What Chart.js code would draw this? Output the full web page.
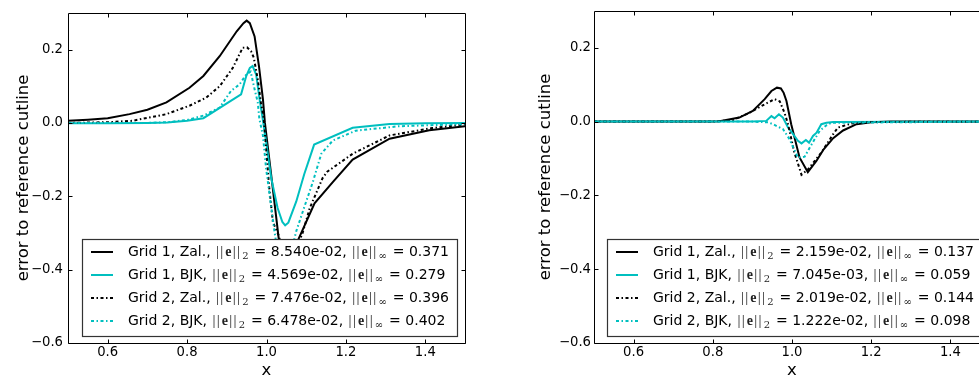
<!DOCTYPE html>
<html>
<head>
<meta charset="utf-8">
<script src="https://cdn.jsdelivr.net/npm/chart.js@4"></script>
<style>
html, body { margin: 0; padding: 0; background: #fff; overflow: hidden; width: 979px; height: 381px; }
.box { position: absolute; top: 0; height: 381px; }
#b1 { left: 0; width: 490px; }
#b2 { left: 520px; width: 500px; }
</style>
</head>
<body>
<div class="box" id="b1"><canvas id="c1"></canvas></div>
<div class="box" id="b2"><canvas id="c2"></canvas></div>
<script>
// ticks
var xTicks = [0.6, 0.8, 1.0, 1.2, 1.4];
var yTicks = [-0.6, -0.4, -0.2, 0.0, 0.2];

// legend text
var names = ["Grid 1, Zal.", "Grid 1, BJK", "Grid 2, Zal.", "Grid 2, BJK"];
var leftL2 = ["8.540e-02", "4.569e-02", "7.476e-02", "6.478e-02"];
var leftLinf = ["0.371", "0.279", "0.396", "0.402"];
var rightL2 = ["2.159e-02", "7.045e-03", "2.019e-02", "1.222e-02"];
var rightLinf = ["0.137", "0.059", "0.144", "0.098"];

// left panel
var l1ZalX = [0.5, 0.55, 0.6, 0.655, 0.7, 0.748, 0.806, 0.841, 0.882, 0.925, 0.942, 0.95, 0.958, 0.97, 0.981, 0.991, 0.996, 1.01, 1.031, 1.05, 1.062, 1.08, 1.121, 1.168, 1.217, 1.31, 1.41, 1.5];
var l1ZalY = [0.006, 0.009, 0.013, 0.024, 0.036, 0.056, 0.096, 0.128, 0.182, 0.25, 0.272, 0.279, 0.272, 0.236, 0.155, 0.065, 0.0, -0.125, -0.317, -0.371, -0.36, -0.318, -0.219, -0.16, -0.10, -0.043, -0.02, -0.009];
var l1BjkX = [0.5, 0.6, 0.7, 0.75, 0.8, 0.841, 0.936, 0.949, 0.958, 0.965, 0.974, 0.982, 0.995, 1.012, 1.028, 1.04, 1.047, 1.055, 1.075, 1.095, 1.12, 1.217, 1.31, 1.4, 1.5];
var l1BjkY = [-0.001, -0.001, 0.0, 0.001, 0.006, 0.013, 0.078, 0.128, 0.15, 0.155, 0.132, 0.069, -0.021, -0.151, -0.232, -0.27, -0.279, -0.272, -0.214, -0.14, -0.059, -0.013, -0.003, -0.001, 0.0];
var l2ZalX = [0.5, 0.6, 0.663, 0.748, 0.806, 0.848, 0.882, 0.915, 0.94, 0.951, 0.961, 0.968, 0.978, 0.986, 0.993, 1.007, 1.016, 1.032, 1.045, 1.058, 1.074, 1.091, 1.109, 1.141, 1.153, 1.217, 1.31, 1.417, 1.5];
var l2ZalY = [0.0, 0.002, 0.006, 0.024, 0.047, 0.069, 0.10, 0.15, 0.205, 0.206, 0.196, 0.178, 0.119, 0.056, 0.011, -0.178, -0.27, -0.31, -0.396, -0.385, -0.345, -0.30, -0.232, -0.151, -0.133, -0.084, -0.034, -0.014, -0.004];
var l2BjkX = [0.5, 0.7, 0.75, 0.8, 0.841, 0.882, 0.911, 0.932, 0.949, 0.96, 0.97, 0.978, 0.982, 0.991, 0.999, 1.02, 1.035, 1.05, 1.06, 1.075, 1.095, 1.117, 1.138, 1.167, 1.225, 1.334, 1.5];
var l2BjkY = [0.0, 0.0, 0.002, 0.008, 0.02, 0.042, 0.088, 0.105, 0.132, 0.14, 0.092, 0.056, 0.011, -0.034, -0.124, -0.295, -0.402, -0.39, -0.36, -0.295, -0.23, -0.16, -0.084, -0.048, -0.021, -0.009, -0.003];

// right panel
var r1ZalX = [0.5, 0.8, 0.817, 0.867, 0.901, 0.931, 0.948, 0.962, 0.972, 0.979, 0.986, 0.998, 1.019, 1.04, 1.062, 1.08, 1.104, 1.129, 1.163, 1.2, 1.25, 1.5];
var r1ZalY = [0.0, 0.0, 0.001, 0.011, 0.029, 0.061, 0.083, 0.092, 0.09, 0.078, 0.056, -0.007, -0.097, -0.137, -0.106, -0.075, -0.045, -0.024, -0.007, -0.002, 0.0, 0.0];
var r1BjkX = [0.5, 0.9, 0.935, 0.948, 0.956, 0.967, 0.977, 0.99, 1.0, 1.015, 1.024, 1.035, 1.043, 1.053, 1.062, 1.074, 1.087, 1.104, 1.5];
var r1BjkY = [0.0, 0.0, 0.002, 0.015, 0.009, 0.02, 0.011, -0.016, -0.03, -0.052, -0.059, -0.05, -0.057, -0.039, -0.03, -0.007, -0.003, -0.001, 0.0];
var r2ZalX = [0.5, 0.8, 0.85, 0.893, 0.931, 0.956, 0.969, 0.981, 0.99, 1.005, 1.024, 1.04, 1.074, 1.104, 1.116, 1.15, 1.2, 1.5];
var r2ZalY = [0.0, 0.0, 0.004, 0.024, 0.047, 0.061, 0.055, 0.024, -0.007, -0.08, -0.144, -0.13, -0.084, -0.034, -0.016, -0.005, -0.001, 0.0];
var r2BjkX = [0.5, 0.9, 0.94, 0.952, 0.969, 0.977, 0.994, 1.007, 1.015, 1.032, 1.045, 1.057, 1.07, 1.087, 1.1, 1.5];
var r2BjkY = [0.0, 0.0, -0.002, -0.007, -0.016, -0.02, -0.048, -0.079, -0.098, -0.095, -0.07, -0.048, -0.025, -0.01, -0.003, 0.0];

var CYAN = "#00bfbf";
var DASHDOT = [3, 2.5, 1.5, 2.5];
var styles = [
  { color: "#000", dash: [] },
  { color: CYAN, dash: [] },
  { color: "#000", dash: DASHDOT },
  { color: CYAN, dash: DASHDOT }
];

function pts(xs, ys) {
  return xs.map(function (x, i) { return { x: x, y: ys[i] }; });
}

function fmt(v) {
  var s = Math.abs(v).toFixed(1);
  return v < -1e-9 ? "\u2212" + s : s;
}

// matplotlib-like frame: all four spines and inward ticks
var framePlugin = {
  id: "frame",
  afterDraw: function (chart) {
    var ctx = chart.ctx, a = chart.chartArea;
    var xs = chart.scales.x, ys = chart.scales.y;
    var L = Math.round(a.left) + 0.5, R = Math.round(a.right) + 0.5;
    var T = Math.round(a.top) + 0.5, B = Math.round(a.bottom) + 0.5;
    ctx.save();
    ctx.strokeStyle = "#000";
    ctx.lineWidth = 1;
    ctx.setLineDash([]);
    ctx.beginPath();
    ctx.rect(L, T, R - L, B - T);
    xTicks.forEach(function (v) {
      var px = Math.round(xs.getPixelForValue(v)) + 0.5;
      ctx.moveTo(px, B); ctx.lineTo(px, B - 4);
      ctx.moveTo(px, T); ctx.lineTo(px, T + 4);
    });
    yTicks.forEach(function (v) {
      var py = Math.round(ys.getPixelForValue(v)) + 0.5;
      ctx.moveTo(L, py); ctx.lineTo(L + 4, py);
      ctx.moveTo(R, py); ctx.lineTo(R - 4, py);
    });
    ctx.stroke();
    ctx.restore();
  }
};

// legend box in the lower right, with math-style norms
var legendPlugin = {
  id: "mplLegend",
  afterDatasetsDraw: function (chart, args, opts) {
    var ctx = chart.ctx, a = chart.chartArea;
    var w = 375, h = 97;
    var right = a.right - 8, bottom = a.bottom - 7;
    var left = right - w, top = bottom - h;
    ctx.save();
    ctx.fillStyle = "#fff";
    ctx.fillRect(left, top, w, h);
    ctx.strokeStyle = "#333";
    ctx.lineWidth = 1.2;
    ctx.strokeRect(left + 0.5, top + 0.5, w, h);
    for (var i = 0; i < 4; i++) {
      var y = top + 13 + i * 23;
      ctx.strokeStyle = styles[i].color;
      ctx.lineWidth = 2;
      ctx.setLineDash(styles[i].dash);
      ctx.beginPath();
      ctx.moveTo(left + 9, y);
      ctx.lineTo(left + 31, y);
      ctx.stroke();
      ctx.setLineDash([]);
      drawRow(ctx, left + 46, y, opts.names[i], opts.l2[i], opts.linf[i]);
    }
    ctx.restore();
  }
};

function drawRow(ctx, x, y, name, l2, linf) {
  ctx.fillStyle = "#000";
  ctx.textBaseline = "middle";
  ctx.textAlign = "left";
  var sans = "14px 'DejaVu Sans'";
  function txt(s, font, dy) {
    ctx.font = font;
    ctx.fillText(s, x, y + (dy || 0));
    x += ctx.measureText(s).width;
  }
  function norm(sub) {
    ctx.fillStyle = "#222";
    ctx.font = "15px 'Liberation Serif'";
    x += 1;
    ctx.fillText("|", x, y); x += 4.3;
    ctx.fillText("|", x, y); x += 5;
    txt("e", "bold 14px 'Liberation Serif'");
    x += 1.2;
    ctx.font = "15px 'Liberation Serif'";
    ctx.fillText("|", x, y); x += 4.3;
    ctx.fillText("|", x, y); x += 5.2;
    txt(sub, "10px 'DejaVu Serif'", 4);
    x += 1.5;
    ctx.fillStyle = "#000";
  }
  txt(name + ", ", sans);
  norm("2");
  txt(" = " + l2 + ", ", sans);
  norm("\u221e");
  txt(" = " + linf, sans);
}

function makeChart(id, series, cfg) {
  return new Chart(document.getElementById(id), {
    type: "line",
    data: {
      datasets: series.map(function (s, i) {
        return {
          data: s,
          borderColor: styles[i].color,
          borderDash: styles[i].dash,
          borderWidth: 2,
          pointRadius: 0,
          tension: 0,
          fill: false,
          order: 4 - i
        };
      })
    },
    options: {
      responsive: true,
      maintainAspectRatio: false,
      animation: false,
      events: [],
      layout: { padding: { left: 0, right: cfg.padRight, top: 10, bottom: 0 } },
      plugins: {
        legend: { display: false },
        tooltip: { enabled: false },
        mplLegend: { names: names, l2: cfg.l2, linf: cfg.linf }
      },
      scales: {
        x: {
          type: "linear",
          min: 0.5,
          max: 1.5,
          bounds: "data",
          afterBuildTicks: function (s) { s.ticks = xTicks.map(function (v) { return { value: v }; }); },
          afterFit: function (s) { s.height = 38; },
          grid: { display: false, drawTicks: false },
          border: { display: false },
          ticks: {
            color: "#000",
            font: { family: "DejaVu Sans", size: 13.2 },
            padding: 2,
            autoSkip: false,
            maxRotation: 0,
            callback: fmt
          },
          title: {
            display: true,
            text: "x",
            color: "#000",
            font: { family: "DejaVu Sans", size: 16.5 },
            padding: { top: 0, bottom: 0 }
          }
        },
        y: {
          type: "linear",
          min: -0.6,
          max: 0.3,
          bounds: "data",
          afterBuildTicks: function (s) { s.ticks = yTicks.map(function (v) { return { value: v }; }); },
          afterFit: function (s) { s.width = cfg.yWidth; },
          grid: { display: false, drawTicks: false },
          border: { display: false },
          ticks: {
            color: "#000",
            font: { family: "DejaVu Sans", size: 13.2 },
            padding: cfg.tickPad,
            autoSkip: false,
            callback: fmt
          },
          title: {
            display: true,
            text: "error to reference cutline",
            color: "#000",
            font: { family: "DejaVu Sans", size: 16.5 },
            padding: { top: cfg.titlePad, bottom: 0 }
          }
        }
      }
    },
    plugins: [legendPlugin, framePlugin]
  });
}

makeChart("c1", [pts(l1ZalX, l1ZalY), pts(l1BjkX, l1BjkY), pts(l2ZalX, l2ZalY), pts(l2BjkX, l2BjkY)],
  { padRight: 25, yWidth: 68, tickPad: 5, titlePad: 14, l2: leftL2, linf: leftLinf });
makeChart("c2", [pts(r1ZalX, r1ZalY), pts(r1BjkX, r1BjkY), pts(r2ZalX, r2ZalY), pts(r2BjkX, r2BjkY)],
  { padRight: 30, yWidth: 74, tickPad: 3, titlePad: 15.6, l2: rightL2, linf: rightLinf });
</script>
</body>
</html>
